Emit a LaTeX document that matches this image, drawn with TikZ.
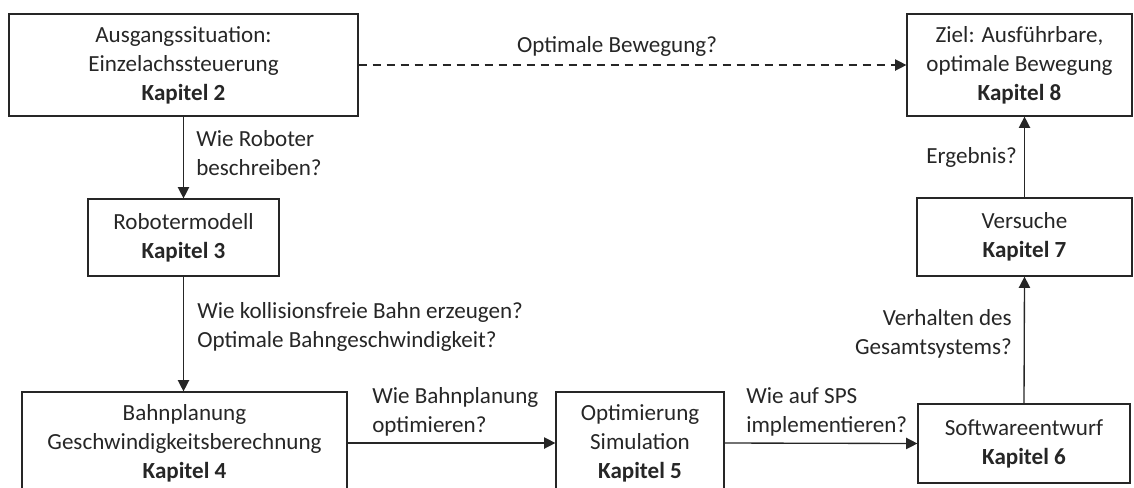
\documentclass[tikz,border=0pt]{standalone}
\usepackage{fontspec}
\setmainfont{Carlito}
\usetikzlibrary{arrows.meta}
\definecolor{ink}{HTML}{262626}
\begin{document}
\begin{tikzpicture}[x=0.75pt,y=-0.75pt,
  every node/.style={font=\fontsize{17.3pt}{21.75pt}\selectfont, text=ink},
  box/.style={draw=ink, line width=0.9pt, align=center, inner sep=0pt},
  conn/.style={draw=ink, line width=1pt, -{Triangle[length=8.5pt,width=8.5pt]}},
  dconn/.style={conn, dash pattern=on 6pt off 4.5pt},
  lbl/.style={inner sep=0pt}]
\useasboundingbox (0,0) rectangle (1134,487);

% chapter boxes
\node[box, minimum width=261.75pt, minimum height=76.5pt] (k2) at (183.5,65)
  {Ausgangssituation:\\Einzelachssteuerung\\\textbf{Kapitel 2}};
\node[box, minimum width=168.75pt, minimum height=76.5pt] (k8) at (1019.5,65)
  {Ziel: Ausführbare,\\optimale Bewegung\\\textbf{Kapitel 8}};
\node[box, minimum width=143.25pt, minimum height=57.75pt] (k3) at (183.5,237.5)
  {Robotermodell\\\textbf{Kapitel 3}};
\node[box, minimum width=161.25pt, minimum height=58.5pt] (k7) at (1024.5,237)
  {Versuche\\\textbf{Kapitel 7}};
\node[box, minimum width=243.75pt, minimum height=76.5pt] (k4) at (184.5,443)
  {Bahnplanung\\Geschwindigkeitsberechnung\\\textbf{Kapitel 4}};
\node[box, minimum width=126pt, minimum height=76.5pt] (k5) at (640,443)
  {Optimierung\\Simulation\\\textbf{Kapitel 5}};
\node[box, minimum width=159pt, minimum height=59.25pt] (k6) at (1024,443.5)
  {Softwareentwurf\\\textbf{Kapitel 6}};

% connectors
\draw[dconn] (k2.east) -- (k8.west);
\draw[conn] (k2.south) -- (k3.north);
\draw[conn] (k3.south) -- (k3.south |- k4.north);
\draw[conn] (k4.east) -- (k5.west);
\draw[conn] (k5.east) -- (k6.west);
\draw[conn] (k6.north) -- (k7.south);
\draw[conn] (k7.north) -- (k7.north |- k8.south);

% questions along the connectors
\node[lbl] (q28) at (617,46) {Optimale Bewegung?};
\node[lbl, anchor=west, align=left] (q23) at (196,153) {Wie Roboter\\beschreiben?};
\node[lbl, anchor=west, align=left] (q34) at (197,327) {Wie kollisionsfreie Bahn erzeugen?\\Optimale Bahngeschwindigkeit?};
\node[lbl, anchor=west, align=left] (q45) at (372,412) {Wie Bahnplanung\\optimieren?};
\node[lbl, anchor=west, align=left] (q56) at (746,412) {Wie auf SPS\\implementieren?};
\node[lbl, anchor=east, align=right] (q67) at (1012,334) {Verhalten des\\Gesamtsystems?};
\node[lbl, anchor=east] (q78) at (1017,157) {Ergebnis?};
\end{tikzpicture}
\end{document}
